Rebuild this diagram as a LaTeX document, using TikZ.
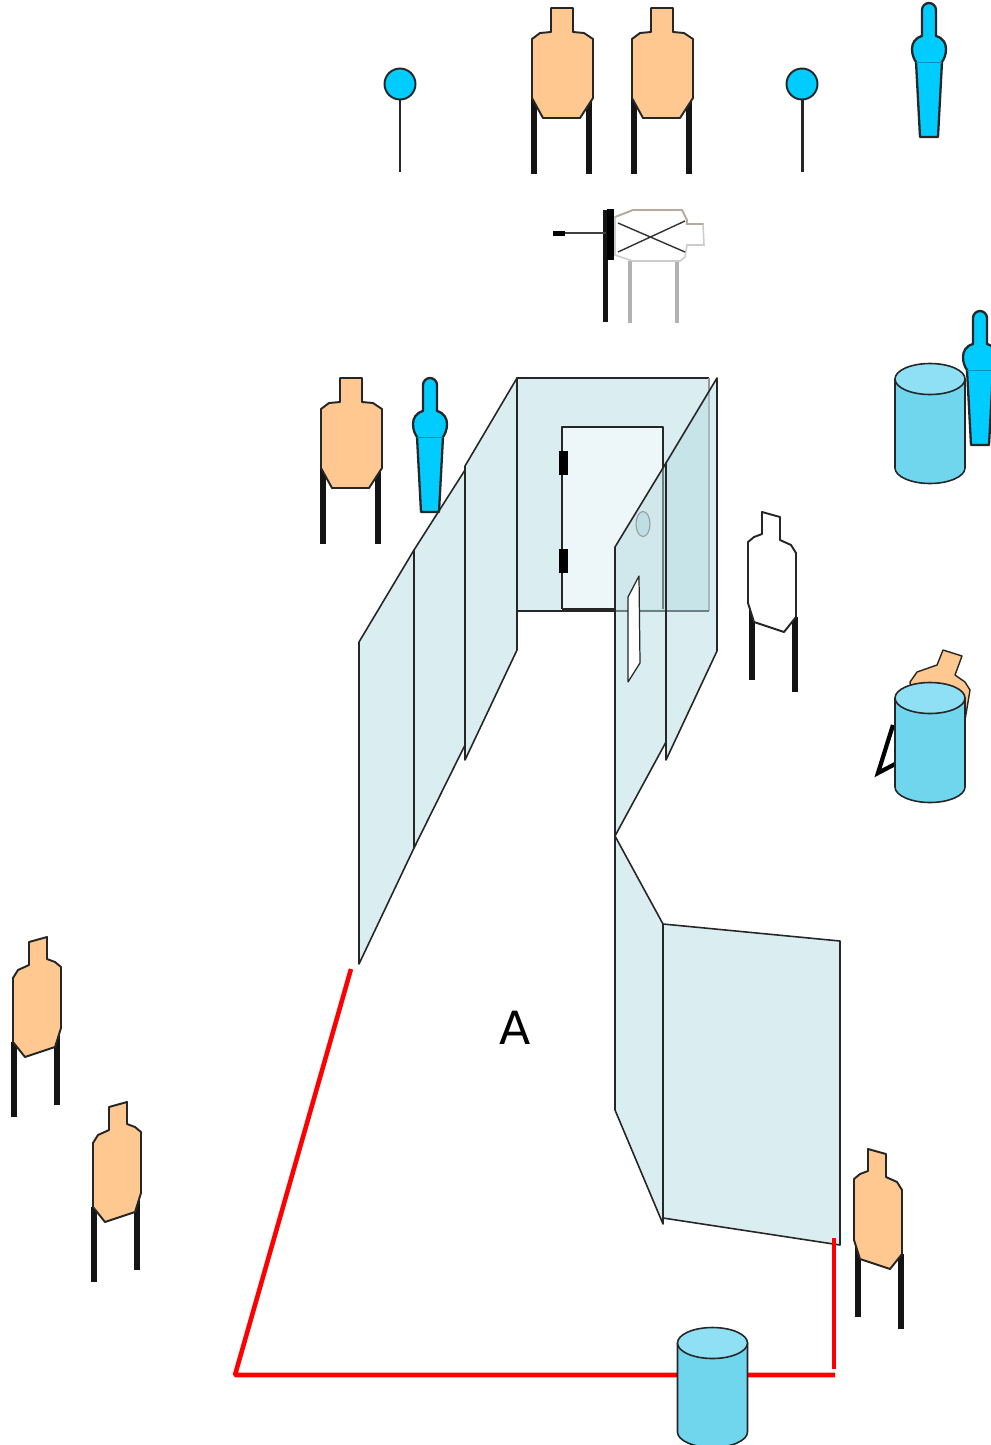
\documentclass[tikz,border=0pt]{standalone}
\usepackage{fontspec}
\setsansfont{DejaVu Sans}
\definecolor{targettan}{HTML}{FFC891}
\definecolor{poppercyan}{HTML}{00CCFF}
\definecolor{barrelbody}{HTML}{6FD6EE}
\definecolor{barreltop}{HTML}{8FE0F5}
\definecolor{wallteal}{HTML}{B5DBE1}
\definecolor{doorpale}{HTML}{EDF6F8}
\definecolor{ghosttan}{HTML}{B9A998}
\tikzset{
 outline/.style={draw=black!85,line width=0.55pt,line join=round},
 leg/.style={draw=black!92,line width=1.55pt},
 wall/.style={outline,line width=0.45pt,fill=wallteal,fill opacity=0.5},
 redline/.style={draw=red,line width=1.3pt,line join=bevel},
 pics/target front/.style={code={
  \draw[leg] (-28,90)--(-28,166);
  \draw[leg] (27,90)--(27,166);
  \draw[outline,fill=targettan] (-11,0)--(11,0)--(11,24)--(22,25)--(31,31)
   --(31,90)--(18,110)--(-19,110)--(-30,90)--(-30,31)--(-22,25)--(-11,24)--cycle;
 }},
 pics/target side/.style={code={
  \draw[leg] (-24,105)--(-24,180);
  \draw[leg] (19,93)--(19,168);
  \draw[outline,fill=#1] (-9,5)--(9,0)--(9,22)--(17,25)--(23,30)--(23,91)--(17,110)
   --(-13,120)--(-25,105)--(-25,41)--(-20,33)--(-9,28)--cycle;
 }},
 pics/noshoot/.style={code={
  \draw[outline,line width=0.65pt,fill=poppercyan] (-7,7) arc (180:360:7)--(7,33)
   .. controls (14,35) and (17,40) .. (17,46)
   .. controls (17,52) and (15,56) .. (13,59)--(9,134)--(-9,134)--(-13,59)
   .. controls (-15,56) and (-17,52) .. (-17,46)
   .. controls (-17,40) and (-14,35) .. (-7,33)--cycle;
  \draw[poppercyan!70!black,line width=0.25pt] (-13,59)--(13,59);
 }},
 pics/popper/.style={code={
  \draw[draw=black!85,line width=0.85pt] (0,15)--(0,88);
  \draw[outline,fill=poppercyan] (0,0) circle (15.5);
 }},
 pics/barrel/.style={code={
  \draw[outline,line width=0.45pt,fill=barrelbody] (-35,0)--(-35,89)
   .. controls (-35,97.5) and (-19,104.5) .. (0,104.5)
   .. controls (19,104.5) and (35,97.5) .. (35,89)--(35,0)--cycle;
  \draw[outline,line width=0.45pt,fill=barreltop] (0,0) ellipse (35 and 15.5);
 }},
}
\begin{document}
\begin{tikzpicture}[x=0.01cm,y=-0.01cm]
 \useasboundingbox (0,0) rectangle (990,1445);
 % walls
 \fill[wallteal,fill opacity=0.5] (517,378) rectangle (709,611);
 \fill[doorpale] (562,427) rectangle (663,609);
 \draw[outline,line width=0.45pt] (709,378)--(517,378)--(517,611);
 \draw[draw=black!40,line width=0.3pt] (709,378)--(709,611);
 \draw[outline,line width=0.45pt] (517,611)--(709,611);
 \draw[outline,line width=0.45pt] (562,609)--(562,427)--(663,427)--(663,609);
 \draw[outline,line width=0.7pt] (562,609)--(615,609);
 \foreach \hy in {451,549} {
  \fill[black] (558.5,\hy) rectangle (567.5,\hy+24);
 }
 \draw[wall] (517,378)--(517,650)--(465,760)--(465,466)--cycle;
 \draw[wall] (465,470)--(465,745)--(414,848)--(414,550)--cycle;
 \draw[wall] (414,550)--(414,848)--(359,964)--(359,642)--cycle;
 \draw[wall] (717,378)--(717,651)--(666,760)--(666,463)--cycle;
 \draw[wall] (666,463)--(666,742)--(615,836)--(615,547)--cycle;
 \draw[outline,line width=0.35pt,fill=white] (639,576)--(640,663)--(628,682)--(628,597)--cycle;
 \draw[draw=black!40,line width=0.3pt,fill=wallteal,fill opacity=0.7] (643,524) ellipse (7 and 12.5);
 \draw[wall] (615,836)--(663,924)--(663,1224)--(615,1110)--cycle;
 \draw[wall] (663,924)--(840,941)--(840,1245)--(663,1218)--cycle;
 % fault line
 \coordinate (rp1) at (351,969);
 \coordinate (rp2) at (235,1375);
 \coordinate (rp3) at (835,1375);
 \coordinate (rp4) at (834,1238);
 \coordinate (rp5) at (834,1369);
 \draw[redline] (rp1)--(rp2)--(rp3);
 \draw[redline] (rp4)--(rp5);
 \node (lblA) at (515,1028) {\sffamily\fontsize{13}{15}\selectfont A};
 % targets
 \foreach \tx/\ty in {562/8,662/8,351/378} {
  \pic at (\tx,\ty) {target front};
 }
 \foreach \tx/\ty in {38/937,118/1102} {
  \pic at (\tx,\ty) {target side=targettan};
 }
 \pic[xscale=-1] at (877,1149) {target side=targettan};
 \pic[xscale=-1] at (771,512) {target side=white};
 \foreach \tx/\ty in {400/84,802/84} {
  \pic at (\tx,\ty) {popper};
 }
 \foreach \tx/\ty in {929/3,980/311,430/378} {
  \pic at (\tx,\ty) {noshoot};
 }
 % swinger
 \draw[draw=black!30,line width=1.1pt] (630,261)--(630,323);
 \draw[draw=black!30,line width=1.1pt] (677,261)--(677,323);
 \draw[draw=black!20,line width=0.45pt,fill=white] (615,217)--(633,210)--(682,210)--(687,220)
  --(687,224)--(703,224)--(704,245)--(687,245)--(685,257)--(680,261)--(633,261)--(615,255)--cycle;
 \draw[draw=ghosttan,line width=0.5pt] (615,217)--(633,210)--(682,210)--(687,220)--(687,224)--(703,224);
 \draw[black!80,line width=0.4pt] (618,223)--(685,252);
 \draw[black!80,line width=0.4pt] (618,252)--(685,221);
 \draw[leg,line width=1.3pt] (605.5,210)--(605.5,322);
 \fill[black] (607,209) rectangle (614,260);
 \draw[black!75,line width=0.6pt] (565,233)--(606,233);
 \draw[black,line width=1.7pt] (553,233.5)--(565,233.5);
 % barrels
 \draw[black,line width=1.2pt,line join=miter] (893,725)--(878,773)--(897,763);
 \draw[outline,line width=0.4pt,fill=targettan] (943,650)--(962,656)--(955,675)--(965,682)
  --(970,690)--(965,720)--(915,720)--(910,682)--(917,672)--(937,665)--cycle;
 \foreach \bx/\by in {930/379,930/698,712.5/1343} {
  \pic at (\bx,\by) {barrel};
 }
\end{tikzpicture}
\end{document}
